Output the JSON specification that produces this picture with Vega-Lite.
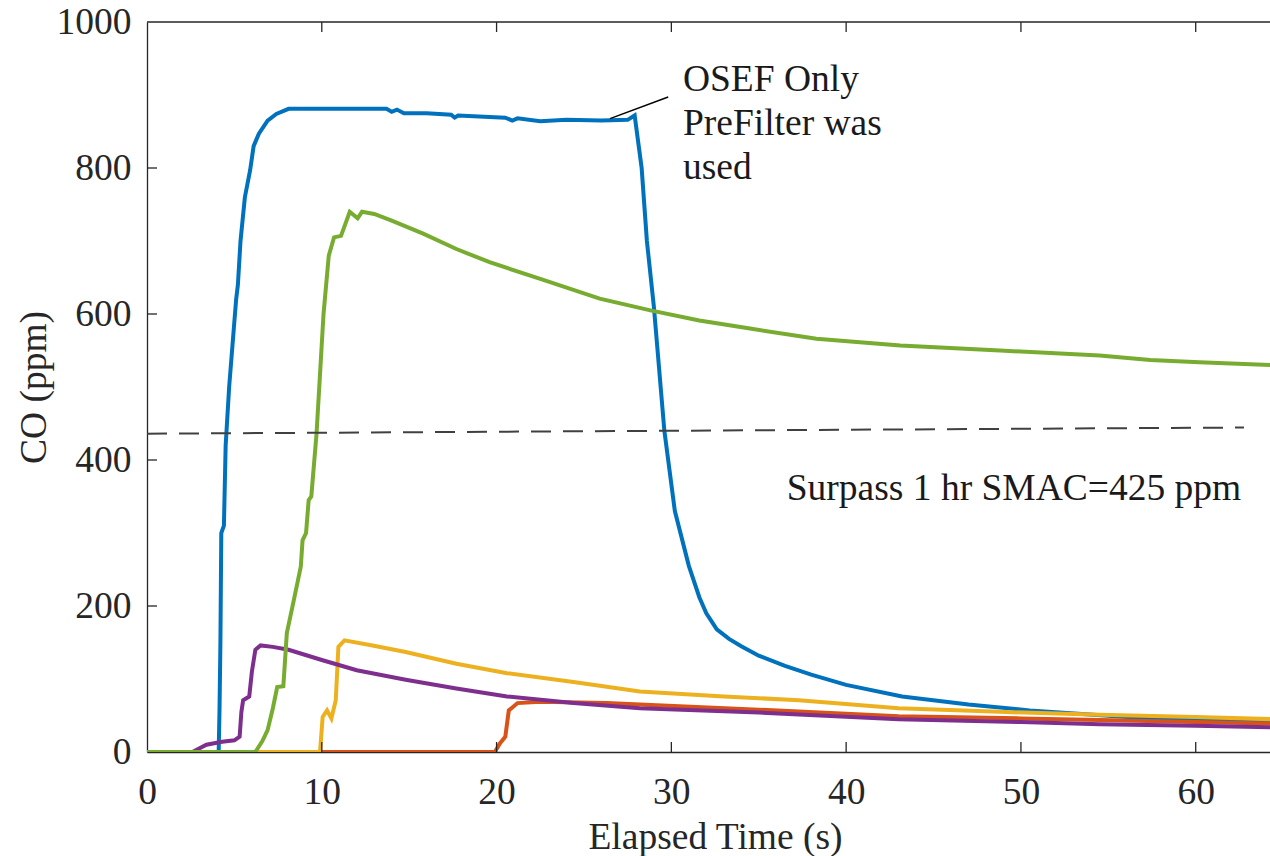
{
  "$schema": "https://vega.github.io/schema/vega-lite/v6.json",
  "width": 1123,
  "height": 730,
  "autosize": {"type": "none"},
  "padding": {"left": 147, "top": 22, "right": 0, "bottom": 104},
  "background": "white",
  "config": {
    "view": {"stroke": null},
    "font": "Liberation Serif",
    "axis": {
      "labelFont": "Liberation Serif",
      "titleFont": "Liberation Serif",
      "labelFontSize": 37.5,
      "titleFontSize": 37.5,
      "titleFontWeight": "normal",
      "labelColor": "#262626",
      "titleColor": "#262626",
      "domainColor": "#262626",
      "grid": false,
      "domainWidth": 1.3,
      "labelFlush": false
    }
  },
  "datasets": {
    "curves": [
      {"s": "S1", "t": 0, "co": 0}, {"s": "S1", "t": 4.1, "co": 0}, {"s": "S1", "t": 4.15, "co": 60}, {"s": "S1", "t": 4.2, "co": 150}, {"s": "S1", "t": 4.25, "co": 300}, {"s": "S1", "t": 4.4, "co": 310}, {"s": "S1", "t": 4.5, "co": 420}, {"s": "S1", "t": 4.7, "co": 500}, {"s": "S1", "t": 4.9, "co": 560}, {"s": "S1", "t": 5.1, "co": 620}, {"s": "S1", "t": 5.2, "co": 640}, {"s": "S1", "t": 5.35, "co": 700}, {"s": "S1", "t": 5.6, "co": 760}, {"s": "S1", "t": 5.9, "co": 797}, {"s": "S1", "t": 6.1, "co": 830}, {"s": "S1", "t": 6.4, "co": 847}, {"s": "S1", "t": 6.9, "co": 865}, {"s": "S1", "t": 7.4, "co": 874}, {"s": "S1", "t": 8.1, "co": 881}, {"s": "S1", "t": 10, "co": 881}, {"s": "S1", "t": 13.7, "co": 881}, {"s": "S1", "t": 14.0, "co": 877}, {"s": "S1", "t": 14.3, "co": 880}, {"s": "S1", "t": 14.7, "co": 875}, {"s": "S1", "t": 16, "co": 875}, {"s": "S1", "t": 17.4, "co": 873}, {"s": "S1", "t": 17.6, "co": 869}, {"s": "S1", "t": 17.8, "co": 872}, {"s": "S1", "t": 20.5, "co": 869}, {"s": "S1", "t": 20.9, "co": 865}, {"s": "S1", "t": 21.2, "co": 868}, {"s": "S1", "t": 22.5, "co": 864}, {"s": "S1", "t": 24, "co": 866}, {"s": "S1", "t": 26, "co": 865}, {"s": "S1", "t": 27.5, "co": 866}, {"s": "S1", "t": 27.9, "co": 872}, {"s": "S1", "t": 28.3, "co": 800}, {"s": "S1", "t": 28.6, "co": 700}, {"s": "S1", "t": 29.0, "co": 610}, {"s": "S1", "t": 29.6, "co": 440}, {"s": "S1", "t": 30.2, "co": 330}, {"s": "S1", "t": 31.0, "co": 255}, {"s": "S1", "t": 31.6, "co": 212}, {"s": "S1", "t": 32.0, "co": 190}, {"s": "S1", "t": 32.6, "co": 168}, {"s": "S1", "t": 33.3, "co": 155}, {"s": "S1", "t": 34.0, "co": 145}, {"s": "S1", "t": 35, "co": 132}, {"s": "S1", "t": 36.5, "co": 118}, {"s": "S1", "t": 38, "co": 106}, {"s": "S1", "t": 40, "co": 92}, {"s": "S1", "t": 43.2, "co": 76}, {"s": "S1", "t": 47, "co": 65}, {"s": "S1", "t": 50.5, "co": 57}, {"s": "S1", "t": 56.7, "co": 47}, {"s": "S1", "t": 64.3, "co": 42},
      {"s": "S2", "t": 0, "co": 0}, {"s": "S2", "t": 19.9, "co": 0}, {"s": "S2", "t": 20.2, "co": 12}, {"s": "S2", "t": 20.5, "co": 21}, {"s": "S2", "t": 20.7, "co": 57}, {"s": "S2", "t": 21.2, "co": 67}, {"s": "S2", "t": 22.5, "co": 69}, {"s": "S2", "t": 26.3, "co": 67}, {"s": "S2", "t": 28.2, "co": 65}, {"s": "S2", "t": 35, "co": 58}, {"s": "S2", "t": 43, "co": 49}, {"s": "S2", "t": 50, "co": 46}, {"s": "S2", "t": 54.5, "co": 44}, {"s": "S2", "t": 60, "co": 41}, {"s": "S2", "t": 64.3, "co": 39},
      {"s": "S3", "t": 0, "co": 0}, {"s": "S3", "t": 9.9, "co": 0}, {"s": "S3", "t": 10.05, "co": 48}, {"s": "S3", "t": 10.3, "co": 57}, {"s": "S3", "t": 10.55, "co": 46}, {"s": "S3", "t": 10.8, "co": 71}, {"s": "S3", "t": 10.95, "co": 144}, {"s": "S3", "t": 11.3, "co": 153}, {"s": "S3", "t": 12.9, "co": 146}, {"s": "S3", "t": 14.8, "co": 137}, {"s": "S3", "t": 17.7, "co": 121}, {"s": "S3", "t": 20.6, "co": 108}, {"s": "S3", "t": 24.4, "co": 96}, {"s": "S3", "t": 28.2, "co": 83}, {"s": "S3", "t": 33, "co": 76}, {"s": "S3", "t": 37.3, "co": 71}, {"s": "S3", "t": 43, "co": 60}, {"s": "S3", "t": 48.8, "co": 55}, {"s": "S3", "t": 54.5, "co": 51}, {"s": "S3", "t": 60, "co": 48}, {"s": "S3", "t": 64.3, "co": 45},
      {"s": "S4", "t": 0, "co": 0}, {"s": "S4", "t": 2.6, "co": 0}, {"s": "S4", "t": 3.4, "co": 10}, {"s": "S4", "t": 4.3, "co": 14}, {"s": "S4", "t": 5.0, "co": 16}, {"s": "S4", "t": 5.3, "co": 21}, {"s": "S4", "t": 5.4, "co": 55}, {"s": "S4", "t": 5.5, "co": 71}, {"s": "S4", "t": 5.85, "co": 76}, {"s": "S4", "t": 6.0, "co": 110}, {"s": "S4", "t": 6.2, "co": 140}, {"s": "S4", "t": 6.5, "co": 146}, {"s": "S4", "t": 7.2, "co": 144}, {"s": "S4", "t": 8.1, "co": 140}, {"s": "S4", "t": 10.0, "co": 126}, {"s": "S4", "t": 12.0, "co": 112}, {"s": "S4", "t": 14.8, "co": 99}, {"s": "S4", "t": 17.7, "co": 87}, {"s": "S4", "t": 20.6, "co": 76}, {"s": "S4", "t": 24.4, "co": 67}, {"s": "S4", "t": 28.2, "co": 60}, {"s": "S4", "t": 35, "co": 54}, {"s": "S4", "t": 43, "co": 45}, {"s": "S4", "t": 50, "co": 41}, {"s": "S4", "t": 54.5, "co": 38}, {"s": "S4", "t": 60, "co": 36}, {"s": "S4", "t": 64.3, "co": 34},
      {"s": "S5", "t": 0, "co": 0}, {"s": "S5", "t": 6.2, "co": 0}, {"s": "S5", "t": 6.6, "co": 15}, {"s": "S5", "t": 6.9, "co": 30}, {"s": "S5", "t": 7.2, "co": 60}, {"s": "S5", "t": 7.45, "co": 89}, {"s": "S5", "t": 7.8, "co": 90}, {"s": "S5", "t": 8.0, "co": 163}, {"s": "S5", "t": 8.4, "co": 208}, {"s": "S5", "t": 8.8, "co": 254}, {"s": "S5", "t": 8.9, "co": 290}, {"s": "S5", "t": 9.1, "co": 300}, {"s": "S5", "t": 9.25, "co": 345}, {"s": "S5", "t": 9.4, "co": 350}, {"s": "S5", "t": 9.7, "co": 436}, {"s": "S5", "t": 10.1, "co": 600}, {"s": "S5", "t": 10.4, "co": 680}, {"s": "S5", "t": 10.7, "co": 705}, {"s": "S5", "t": 11.1, "co": 707}, {"s": "S5", "t": 11.6, "co": 740}, {"s": "S5", "t": 12.05, "co": 731}, {"s": "S5", "t": 12.3, "co": 740}, {"s": "S5", "t": 13.0, "co": 737}, {"s": "S5", "t": 14.0, "co": 728}, {"s": "S5", "t": 15.8, "co": 710}, {"s": "S5", "t": 17.7, "co": 689}, {"s": "S5", "t": 19.6, "co": 671}, {"s": "S5", "t": 22.5, "co": 648}, {"s": "S5", "t": 25.9, "co": 621}, {"s": "S5", "t": 28.8, "co": 605}, {"s": "S5", "t": 31.6, "co": 591}, {"s": "S5", "t": 34.5, "co": 580}, {"s": "S5", "t": 38.3, "co": 566}, {"s": "S5", "t": 43.1, "co": 557}, {"s": "S5", "t": 48.8, "co": 550}, {"s": "S5", "t": 54.5, "co": 543}, {"s": "S5", "t": 57.4, "co": 537}, {"s": "S5", "t": 60.2, "co": 534}, {"s": "S5", "t": 64.3, "co": 530}
    ],
    "dash": [{"t": 0, "co": 436}, {"t": 62.76, "co": 444.5}],
    "ptr": [{"t": 26.49, "co": 867.6, "t2": 29.82, "co2": 897.2}],
    "notes": [
      {"t": 30.66, "co": 905, "label": "OSEF Only"},
      {"t": 30.66, "co": 844.7, "label": "PreFilter was"},
      {"t": 30.66, "co": 784.5, "label": "used"},
      {"t": 36.6, "co": 345, "label": "Surpass 1 hr SMAC=425 ppm"}
    ],
    "xticks": [{"t": 10}, {"t": 20}, {"t": 30}, {"t": 40}, {"t": 50}, {"t": 60}],
    "yticks": [{"co": 200}, {"co": 400}, {"co": 600}, {"co": 800}]
  },
  "layer": [
    {
      "data": {"name": "curves"},
      "mark": {"type": "line", "strokeWidth": 4, "clip": true},
      "encoding": {
        "x": {
          "field": "t", "type": "quantitative",
          "scale": {"domain": [0, 64.25], "nice": false, "zero": false},
          "axis": {"orient": "bottom", "values": [0, 10, 20, 30, 40, 50, 60], "title": "Elapsed Time (s)", "ticks": false, "labelPadding": 21, "titlePadding": 8, "titleX": 568, "domain": true}
        },
        "y": {
          "field": "co", "type": "quantitative",
          "scale": {"domain": [0, 1000], "nice": false},
          "axis": {"orient": "left", "values": [0, 200, 400, 600, 800, 1000], "format": "d", "title": "CO (ppm)", "ticks": false, "labelPadding": 16, "titlePadding": 3, "domain": true}
        },
        "color": {
          "field": "s", "type": "nominal",
          "scale": {"domain": ["S1", "S2", "S3", "S4", "S5"], "range": ["#0072BD", "#D95319", "#EDB120", "#7E2F8E", "#77AC30"]},
          "legend": null
        }
      }
    },
    {
      "data": {"name": "dash"},
      "mark": {"type": "line", "color": "#404040", "strokeWidth": 2, "strokeDash": [20, 12], "clip": true},
      "encoding": {
        "x": {"field": "t", "type": "quantitative"},
        "y": {"field": "co", "type": "quantitative"}
      }
    },
    {
      "data": {"name": "ptr"},
      "mark": {"type": "rule", "color": "#000000", "strokeWidth": 1.5},
      "encoding": {
        "x": {"field": "t", "type": "quantitative"},
        "y": {"field": "co", "type": "quantitative"},
        "x2": {"field": "t2"},
        "y2": {"field": "co2"}
      }
    },
    {
      "data": {"name": "notes"},
      "mark": {"type": "text", "align": "left", "baseline": "alphabetic", "font": "Liberation Serif", "fontSize": 37.5, "color": "#1a1a1a"},
      "encoding": {
        "x": {"field": "t", "type": "quantitative"},
        "y": {"field": "co", "type": "quantitative"},
        "text": {"field": "label"}
      }
    },
    {
      "data": {"values": [{}]},
      "mark": {"type": "rule", "color": "#262626", "strokeWidth": 1.3},
      "encoding": {"y": {"datum": 1000, "type": "quantitative"}}
    },
    {
      "data": {"name": "xticks"},
      "mark": {"type": "rule", "color": "#262626", "strokeWidth": 1.3},
      "encoding": {
        "x": {"field": "t", "type": "quantitative"},
        "y": {"datum": 0, "type": "quantitative"},
        "y2": {"datum": 13.7}
      }
    },
    {
      "data": {"name": "xticks"},
      "mark": {"type": "rule", "color": "#262626", "strokeWidth": 1.3},
      "encoding": {
        "x": {"field": "t", "type": "quantitative"},
        "y": {"datum": 986.3, "type": "quantitative"},
        "y2": {"datum": 1000}
      }
    },
    {
      "data": {"name": "yticks"},
      "mark": {"type": "rule", "color": "#262626", "strokeWidth": 1.3},
      "encoding": {
        "y": {"field": "co", "type": "quantitative"},
        "x": {"datum": 0, "type": "quantitative"},
        "x2": {"datum": 0.572}
      }
    }
  ]
}
